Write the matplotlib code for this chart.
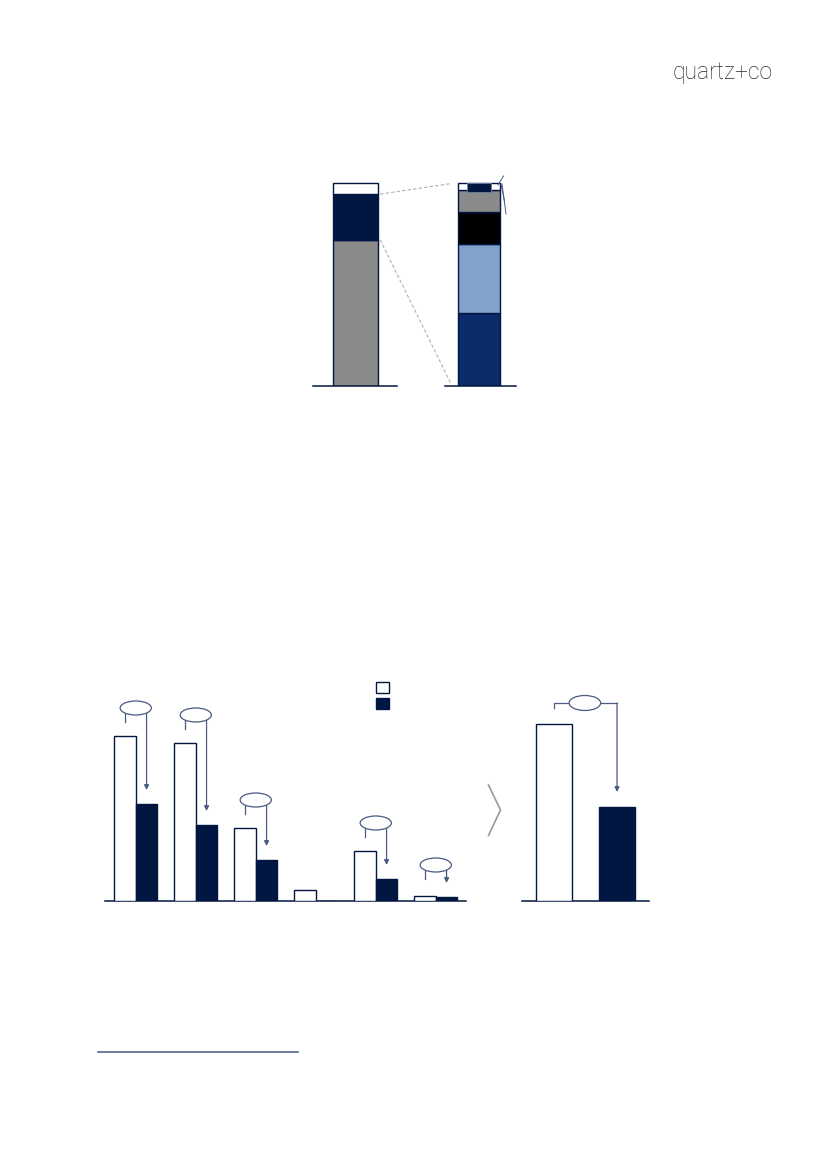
import matplotlib
matplotlib.use("Agg")
import matplotlib.pyplot as plt
from matplotlib.patches import Ellipse, Rectangle
from matplotlib.lines import Line2D

W, H = 827, 1169

NAVY = "#011640"
BLUE = "#0b2b6a"
LIGHT = "#82a2cb"
GREY = "#8a8a8a"
LINE = "#4a5a80"

# top: total split (left bar) and breakdown of the navy slice (right bar), % of height
left_parts = [72.0, 22.5, 5.5]
left_colors = [GREY, NAVY, "white"]
right_parts = [36.0, 34.0, 15.8, 10.6, 3.6]
right_colors = [BLUE, LIGHT, "black", GREY, "white"]
right_top_detail = 4.8

# bottom-left: six categories, before (white) vs after (navy)
before = [165, 158, 73, 11, 50, 5]
after = [97, 76, 41, 0, 22, 4]

# bottom-right: totals
totals = [177, 94]


def px_axes(x0, y0, x1, y1):
    ax = fig.add_axes([x0 / W, 1 - y1 / H, (x1 - x0) / W, (y1 - y0) / H])
    ax.set_facecolor("none")
    for s in ax.spines.values():
        s.set_visible(False)
    ax.set_xticks([])
    ax.set_yticks([])
    return ax


def px_line(xs, ys, **kw):
    fig.add_artist(Line2D([x / W for x in xs], [1 - y / H for y in ys],
                          transform=fig.transFigure, **kw))


fig = plt.figure(figsize=(W / 100, H / 100), dpi=100)

# logo
fig.text(673 / W, 1 - 79 / H, "quartz+co", fontsize=16.5, color="#2a2a2a",
         family="Roboto", fontweight="light", va="baseline")

# ---------- top chart ----------
ax = px_axes(300, 170, 530, 386)
ax.set_xlim(-0.449, 1.413)
ax.set_ylim(0, 106.4)
bw = 0.36

bottom = 0
for v, c in zip(left_parts, left_colors):
    ax.bar(0, v, bw, bottom=bottom, color=c, edgecolor=NAVY, lw=1.0, zorder=3)
    bottom += v
navy_top = left_parts[0] + left_parts[1]

bottom = 0
for v, c in zip(right_parts, right_colors):
    ax.bar(1, v, bw * 0.95, bottom=bottom, color=c, edgecolor=NAVY, lw=1.0, zorder=3)
    bottom += v
grey_top = sum(right_parts[:-1])
ax.bar(1, right_top_detail, bw * 0.55, bottom=grey_top - 1.0, color=NAVY,
       edgecolor="#7083ad", lw=0.6, zorder=4)

# baselines
ax.plot([-0.344, 0.336], [0, 0], color=NAVY, lw=1.1, clip_on=False, zorder=5)
ax.plot([0.725, 1.30], [0, 0], color=NAVY, lw=1.1, clip_on=False, zorder=5)

# dashed zoom connectors
ax.plot([bw / 2 + 0.02, 1 - bw / 2 - 0.05], [navy_top, sum(left_parts) - 0.3],
        color="#b0b0b0", lw=0.8, ls=(0, (3, 2)), zorder=2)
ax.plot([bw / 2 + 0.02, 1 - bw / 2 - 0.05], [left_parts[0], 1.5],
        color="#b0b0b0", lw=0.8, ls=(0, (3, 2)), zorder=2)

# tiny leader lines at top right of the breakdown bar
px_line([498, 503.5], [185, 176], color=LINE, lw=0.7, zorder=6)
px_line([501, 504.5], [184, 201], color=LINE, lw=0.7, zorder=6)
px_line([502, 506], [184, 214], color=LINE, lw=0.7, zorder=6)

# ---------- bottom-left chart ----------
ax2 = px_axes(105, 670, 466, 901)
ax2.spines["bottom"].set_visible(True)
ax2.spines["bottom"].set_color(NAVY)
ax2.spines["bottom"].set_linewidth(1.1)
ax2.set_xlim(-0.5125, 5.504)
ax2.set_ylim(0, 231)
x = list(range(len(before)))
w = 0.36
ax2.bar([i - w / 2 for i in x], before, w, color="white", edgecolor=NAVY, lw=1.0, zorder=3)
ax2.bar([i + w / 2 for i in x], after, w, color=NAVY, edgecolor=NAVY, lw=1.0, zorder=3)

for i, (b, a) in enumerate(zip(before, after)):
    if a == 0:
        continue
    ye = max(b + 28, a + 32)
    ax2.plot([i - w / 2, i - w / 2], [ye, ye - 14], color=LINE, lw=0.9, zorder=4)
    ax2.annotate("", xy=(i + w / 2, a + 14), xytext=(i + w / 2, ye),
                 arrowprops=dict(arrowstyle="-|>", color=LINE, lw=0.9,
                                 mutation_scale=7, shrinkA=0, shrinkB=0), zorder=4)
    ax2.add_patch(Ellipse((i, ye), 0.52, 14, facecolor="white", edgecolor=LINE,
                          lw=0.9, zorder=5))

# legend squares
fig.add_artist(Rectangle((376 / W, 1 - 693 / H), 13 / W, 11 / H, facecolor="white",
                         edgecolor=NAVY, lw=1.0, transform=fig.transFigure))
fig.add_artist(Rectangle((376 / W, 1 - 708.5 / H), 13 / W, 11 / H, facecolor=NAVY,
                         edgecolor=NAVY, lw=1.0, transform=fig.transFigure))

# chevron
px_line([488.5, 500.5, 488.5], [785, 810, 835.5], color="#9a9a9a", lw=1.2)

# ---------- bottom-right chart ----------
ax3 = px_axes(521.7, 670, 648.7, 901)
ax3.spines["bottom"].set_visible(True)
ax3.spines["bottom"].set_color(NAVY)
ax3.spines["bottom"].set_linewidth(1.1)
ax3.set_xlim(-0.513, 1.503)
ax3.set_ylim(0, 231)
w3 = 0.56
ax3.bar([0], totals[:1], w3, color="white", edgecolor=NAVY, lw=1.0, zorder=3)
ax3.bar([1], totals[1:], w3, color=NAVY, edgecolor=NAVY, lw=1.0, zorder=3)
yb = totals[0] + 21
ax3.plot([0, 0, 1], [yb - 5, yb, yb], color=LINE, lw=0.9, zorder=4)
ax3.annotate("", xy=(1, totals[1] + 15), xytext=(1, yb),
             arrowprops=dict(arrowstyle="-|>", color=LINE, lw=0.9,
                             mutation_scale=7, shrinkA=0, shrinkB=0), zorder=4)
ax3.add_patch(Ellipse((0.49, yb), 0.50, 15, facecolor="white", edgecolor=LINE,
                      lw=0.9, zorder=5))

# footnote rule
px_line([98, 298], [1052, 1052], color="#56648f", lw=1.2)

fig.savefig("out.png", dpi=100)
